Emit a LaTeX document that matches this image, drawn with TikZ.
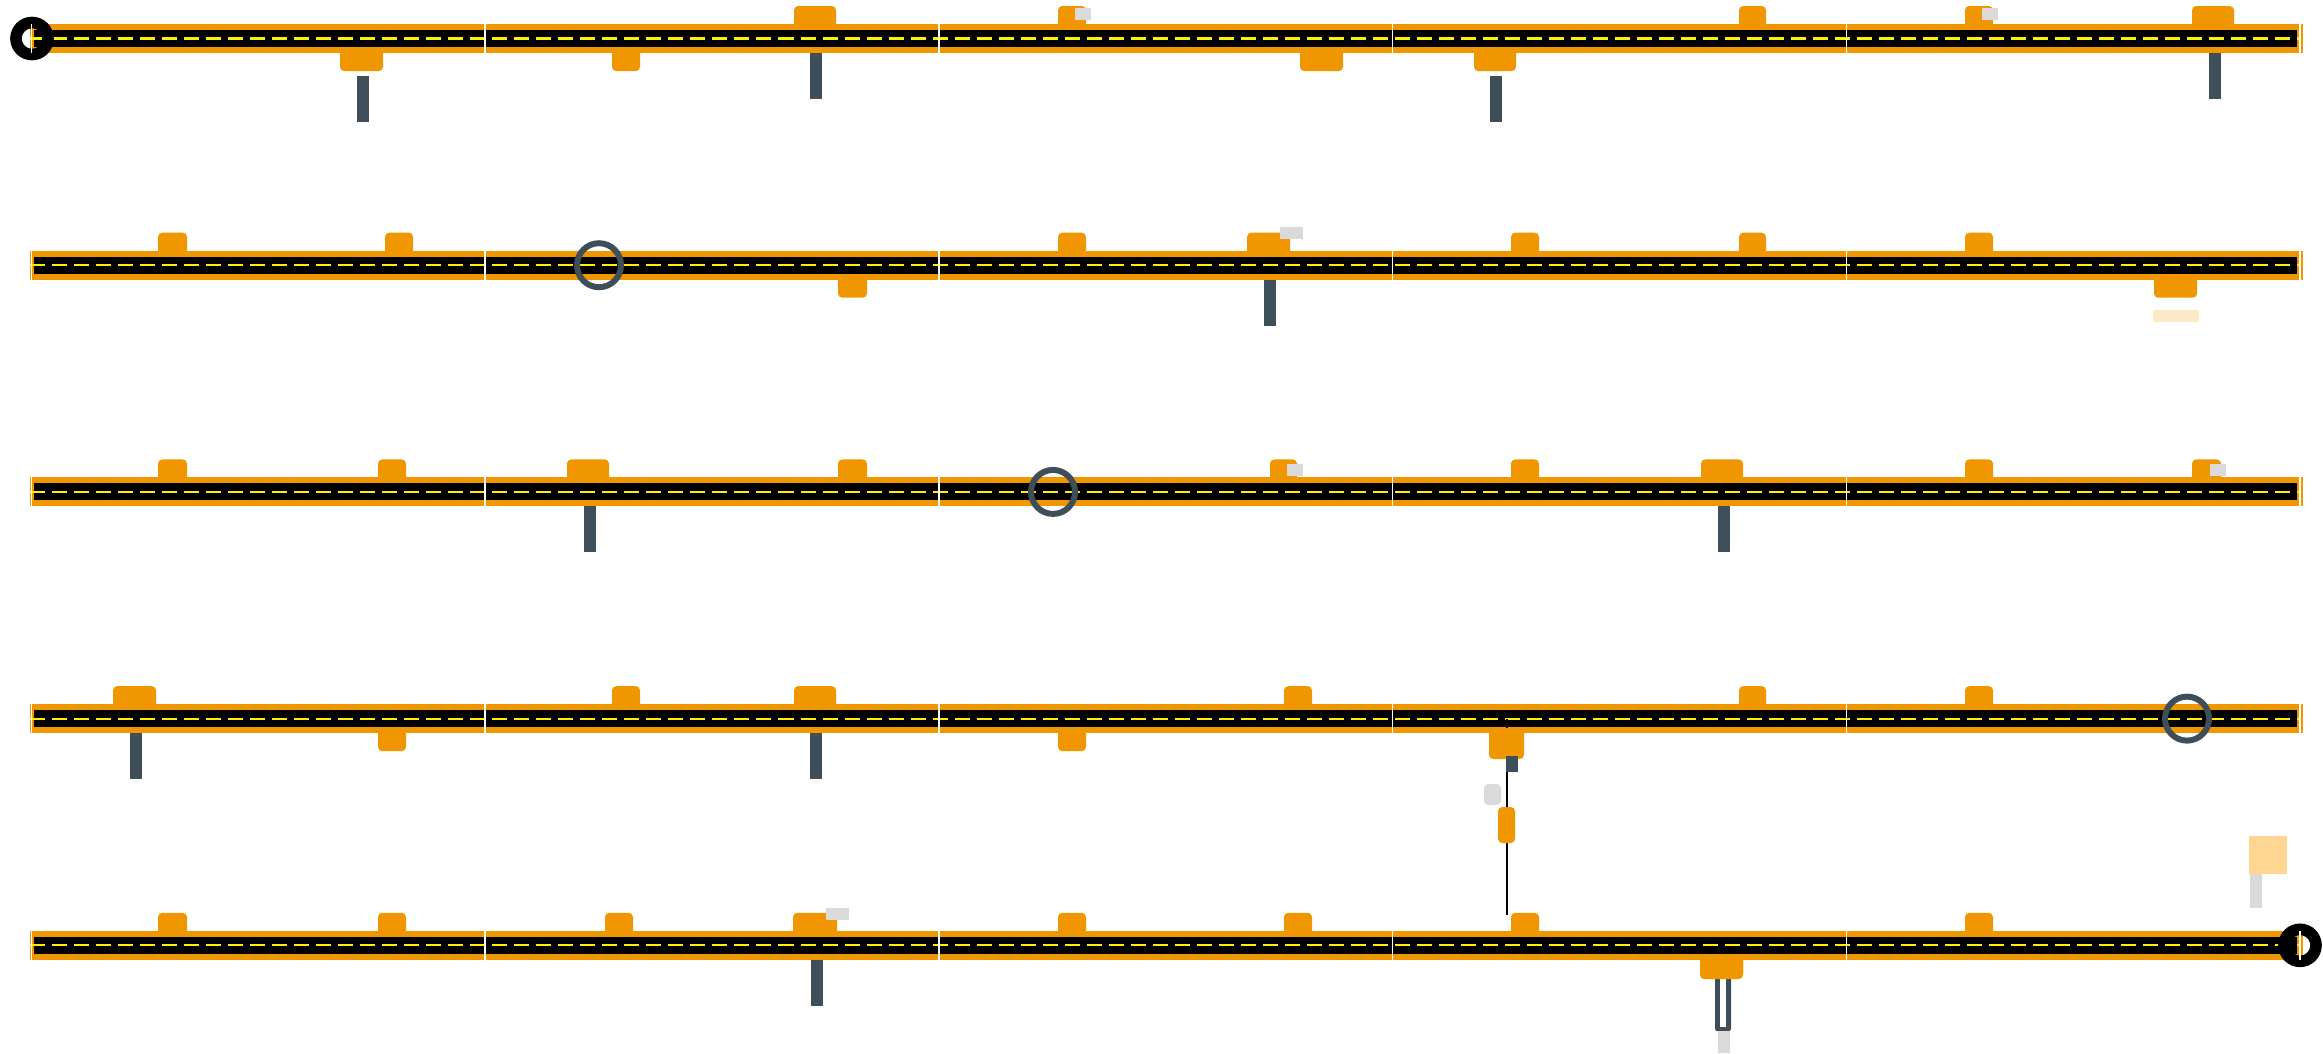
\documentclass[tikz,border=0pt]{standalone}

\definecolor{roadorange}{HTML}{EF9600}
\definecolor{slate}{HTML}{3F4F5A}
\definecolor{lightgrey}{HTML}{DADADA}
\definecolor{paleorange}{HTML}{FDE8C8}
\definecolor{sandorange}{HTML}{FED591}
\definecolor{laneyellow}{HTML}{FFF000}

\tikzset{
  tabfill/.style={fill=roadorange, rounded corners=1.2pt},
  postfill/.style={fill=slate},
  ringmark/.style={draw=slate, line width=1.7pt},
  endring/.style={draw=black, line width=3.3pt},
  lane/.style={draw=laneyellow, line width=0.63pt, dash pattern=on 4.27pt off 1.99pt},
  gap/.style={draw=white, line width=0.45pt},
}

\begin{document}
\begin{tikzpicture}[x=0.01cm, y=-0.01cm]
\useasboundingbox (0,0) rectangle (2323,1053);

% tabs: left x / width / row / side (-1 above, 1 below)
\foreach \tx/\tw/\tr/\ts in {
  340/43/1/1, 612/28/1/1, 794/42/1/-1, 1058/28/1/-1, 1300/43/1/1, 1474/42/1/1, 1739/27/1/-1, 1965/28/1/-1, 2192/42/1/-1,
  158/29/2/-1, 385/28/2/-1, 838/29/2/1, 1058/28/2/-1, 1247/43/2/-1, 1511/28/2/-1, 1739/27/2/-1, 1965/28/2/-1, 2154/43/2/1,
  158/29/3/-1, 378/28/3/-1, 567/42/3/-1, 838/29/3/-1, 1270/27/3/-1, 1511/28/3/-1, 1701/42/3/-1, 1965/28/3/-1, 2192/29/3/-1,
  113/43/4/-1, 378/28/4/1, 612/28/4/-1, 794/42/4/-1, 1058/28/4/1, 1284/28/4/-1, 1739/27/4/-1, 1965/28/4/-1,
  158/29/5/-1, 378/28/5/-1, 605/28/5/-1, 793/44/5/-1, 1058/28/5/-1, 1284/28/5/-1, 1511/28/5/-1, 1700/43/5/1, 1965/28/5/-1}
{
  \pgfmathsetmacro\yy{38.5+226.7*(\tr-1)}
  \fill[tabfill] (\tx,\yy) rectangle ++(\tw,\ts*32.5);
}

% roads
\foreach \r in {0,...,4} {
  \pgfmathsetmacro\yy{38.5+226.7*\r}
  \fill[roadorange] (29.5,\yy-14.5) rectangle (2303,\yy+14.5);
  \fill[black] (34,\yy-8.5) rectangle (2297,\yy+8.5);
  \draw[lane] (30,\yy) -- (2300,\yy);
}

% start and end
\draw[endring] (32,38.5) circle[radius=16];
\draw[endring] (2300,945.3) circle[radius=16];

% segment joints
\foreach \r in {0,...,4}
  \foreach \k in {0,...,5} {
    \pgfmathsetmacro\yy{38.5+226.7*\r}
    \draw[gap] (31.5+453.7*\k,\yy-14.5) -- ++(0,29);
  }

% posts: centre x / row / offset below road centre
\foreach \px/\pr/\po in {363/1/37.5, 816/1/14.5, 1496/1/37.5, 2215/1/14.5,
  1270/2/14.5, 590/3/14.5, 1724/3/14.5, 136/4/14.5, 816/4/14.5, 817/5/14.5}
{
  \pgfmathsetmacro\yy{38.5+226.7*(\pr-1)}
  \fill[postfill] (\px-6,\yy+\po) rectangle ++(12,46);
}

% grey flags
\foreach \gx/\gy/\gw in {1075/8/16, 1982/8/16, 1280/227/23, 1287/464/16, 2210/464/16, 826/908/23}
  \fill[lightgrey] (\gx,\gy) rectangle ++(\gw,12);

% rings on the road
\foreach \cx/\cy in {599/265.2, 1053/491.9, 2187/718.6}
  \draw[ringmark] (\cx,\cy) circle[radius=22];

\fill[paleorange] (2153,310) rectangle (2199,322);

% branch between rows 4 and 5
\coordinate (jtop) at (1507,718.6);
\coordinate (jbot) at (1507,915);
\draw[black, line width=0.55pt] (jtop) -- (jbot);
\fill[tabfill] (1489,728) rectangle (1524,759);
\fill[postfill] (1506,756) rectangle (1518,772);
\fill[lightgrey, rounded corners=1.2pt] (1484,784) rectangle (1501,805);
\fill[tabfill] (1498,807) rectangle (1515,843);

% double post under row 5
\fill[postfill, rounded corners=0.6pt] (1715,975) rectangle (1731,1031);
\fill[white] (1720,975) rectangle (1726,1027);
\fill[tabfill] (1700,955) rectangle (1743,979);
\fill[lightgrey] (1718,1031) rectangle (1730,1053);

% block near the end
\fill[sandorange] (2249,836) rectangle (2287,874);
\fill[lightgrey] (2250,874) rectangle (2262,908);
\end{tikzpicture}
\end{document}
